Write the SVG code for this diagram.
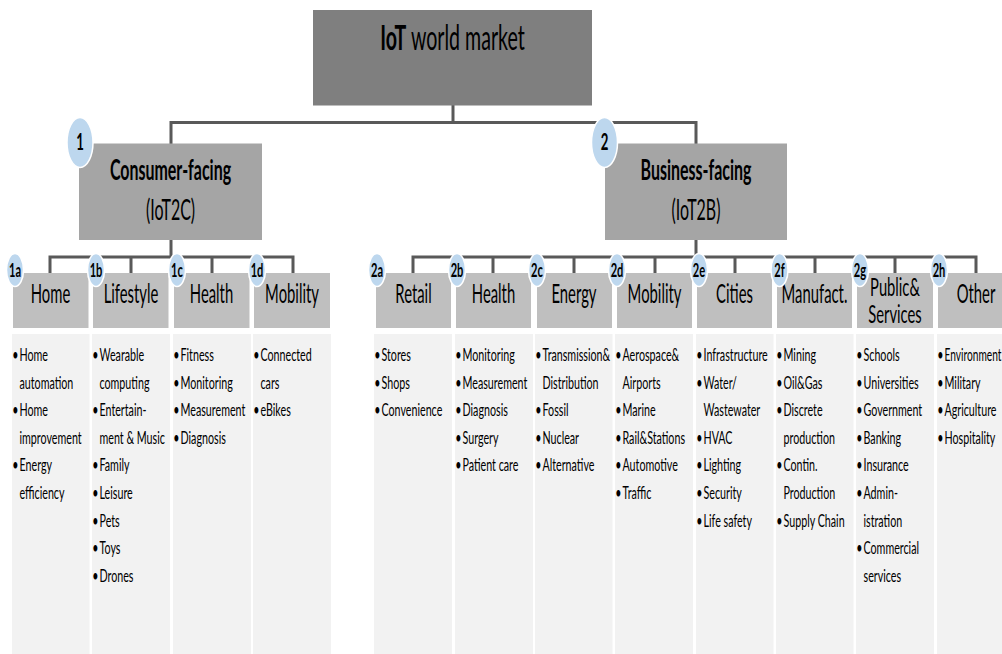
<svg xmlns="http://www.w3.org/2000/svg" width="1002" height="654" viewBox="0 0 1002 654">
<style>
text{font-family:Lato,"Liberation Sans",sans-serif;fill:#000}
.top{fill:#7f7f7f}
.l1{fill:#a5a5a5}
.l2{fill:#bfbfbf}
.ct{fill:#f2f2f2}
.con{fill:none;stroke:#595959;stroke-width:3}
.bd{fill:#bdd7ee;stroke:#fff;stroke-width:1.5}
.b{font-size:17px}
.bu{font-size:17px;text-anchor:middle}
.h{font-size:26px;text-anchor:middle}
.h2{font-size:25px;text-anchor:middle}
.t1{font-size:28.5px;text-anchor:middle}
.bl{font-size:18.5px;font-weight:bold;text-anchor:middle}
.bn{font-size:22px;font-weight:bold;text-anchor:middle}
</style>
<g id="connectors">
<path class="con" d="M453 105 V122.5"/>
<path class="con" d="M171 144 V122.5 H696 V144"/>
<path class="con" d="M171 240 V257"/>
<path class="con" d="M50 273 V257 H293 V273 M131 257 V273 M212 257 V273"/>
<path class="con" d="M696 240 V257"/>
<path class="con" d="M413 273 V257 H976 V273 M493 257 V273 M574 257 V273 M655 257 V273 M735 257 V273 M815 257 V273 M895 257 V273"/>
</g>
<g id="root">
<rect class="top" x="313" y="10" width="279" height="95.5"/>
<text transform="translate(452.5 50) scale(0.56 1)" style="font-size:35px;text-anchor:middle"><tspan font-weight="bold">IoT</tspan> world market</text>
</g>
<g id="consumer">
<rect class="l1" x="79" y="143.5" width="183" height="96.5"/>
<text class="t1" transform="translate(170.5 179.5) scale(0.56 1)" font-weight="bold">Consumer-facing</text>
<text class="t1" transform="translate(170.5 220) scale(0.56 1)">(IoT2C)</text>
<ellipse class="bd" cx="80" cy="142.5" rx="13" ry="25"/>
<text class="bn" transform="translate(80 150) scale(0.6 1)">1</text>
</g>
<g id="business">
<rect class="l1" x="605" y="143.5" width="182" height="96.5"/>
<text class="t1" transform="translate(696 179.5) scale(0.56 1)" font-weight="bold">Business-facing</text>
<text class="t1" transform="translate(696 220) scale(0.56 1)">(IoT2B)</text>
<ellipse class="bd" cx="604.5" cy="142.5" rx="13" ry="25"/>
<text class="bn" transform="translate(604.5 150) scale(0.6 1)">2</text>
</g>

<g id="c-home">
<rect class="l2" x="13" y="273" width="75.5" height="55"/>
<text class="h" transform="translate(50.5 303) scale(0.57 1)">Home</text>
<rect class="ct" x="12" y="334" width="77.5" height="320"/>
<g transform="translate(15.3 0) scale(0.63 1)"><text class="bu" y="361">•</text><text class="bu" y="416.2">•</text><text class="bu" y="471.4">•</text></g>
<g transform="translate(19.5 0) scale(0.63 1)"><text class="b" y="361">Home</text><text class="b" y="388.6">automation</text><text class="b" y="416.2">Home</text><text class="b" y="443.8">improvement</text><text class="b" y="471.4">Energy</text><text class="b" y="499">efficiency</text></g>
<ellipse class="bd" cx="15" cy="270" rx="8.5" ry="16.5"/>
<text class="bl" transform="translate(15 277) scale(0.6 1)">1a</text>
</g>
<g id="c-lifestyle">
<rect class="l2" x="93" y="273" width="75.5" height="55"/>
<text class="h" transform="translate(131 303) scale(0.57 1)">Lifestyle</text>
<rect class="ct" x="92" y="334" width="78" height="320"/>
<g transform="translate(95.3 0) scale(0.63 1)"><text class="bu" y="361">•</text><text class="bu" y="416.2">•</text><text class="bu" y="471.4">•</text><text class="bu" y="499">•</text><text class="bu" y="526.6">•</text><text class="bu" y="554.2">•</text><text class="bu" y="581.8">•</text></g>
<g transform="translate(99.5 0) scale(0.63 1)"><text class="b" y="361">Wearable</text><text class="b" y="388.6">computing</text><text class="b" y="416.2">Entertain-</text><text class="b" y="443.8">ment &amp; Music</text><text class="b" y="471.4">Family</text><text class="b" y="499">Leisure</text><text class="b" y="526.6">Pets</text><text class="b" y="554.2">Toys</text><text class="b" y="581.8">Drones</text></g>
<ellipse class="bd" cx="96" cy="270" rx="8.5" ry="16.5"/>
<text class="bl" transform="translate(96 277) scale(0.6 1)">1b</text>
</g>
<g id="c-health">
<rect class="l2" x="174" y="273" width="75.5" height="55"/>
<text class="h" transform="translate(211.5 303) scale(0.57 1)">Health</text>
<rect class="ct" x="173" y="334" width="78" height="320"/>
<g transform="translate(176.3 0) scale(0.63 1)"><text class="bu" y="361">•</text><text class="bu" y="388.6">•</text><text class="bu" y="416.2">•</text><text class="bu" y="443.8">•</text></g>
<g transform="translate(180.5 0) scale(0.63 1)"><text class="b" y="361">Fitness</text><text class="b" y="388.6">Monitoring</text><text class="b" y="416.2">Measurement</text><text class="b" y="443.8">Diagnosis</text></g>
<ellipse class="bd" cx="177" cy="270" rx="8.5" ry="16.5"/>
<text class="bl" transform="translate(177 277) scale(0.6 1)">1c</text>
</g>
<g id="c-mobility">
<rect class="l2" x="254" y="273" width="76" height="55"/>
<text class="h" transform="translate(292 303) scale(0.57 1)">Mobility</text>
<rect class="ct" x="253" y="334" width="78" height="320"/>
<g transform="translate(256.3 0) scale(0.63 1)"><text class="bu" y="361">•</text><text class="bu" y="416.2">•</text></g>
<g transform="translate(260.5 0) scale(0.63 1)"><text class="b" y="361">Connected</text><text class="b" y="388.6">cars</text><text class="b" y="416.2">eBikes</text></g>
<ellipse class="bd" cx="257" cy="270" rx="8.5" ry="16.5"/>
<text class="bl" transform="translate(257 277) scale(0.6 1)">1d</text>
</g>

<g id="b-retail">
<rect class="l2" x="376" y="273" width="75" height="55"/>
<text class="h" transform="translate(413.5 303) scale(0.57 1)">Retail</text>
<rect class="ct" x="374" y="334" width="78" height="320"/>
<g transform="translate(377.3 0) scale(0.63 1)"><text class="bu" y="361">•</text><text class="bu" y="388.6">•</text><text class="bu" y="416.2">•</text></g>
<g transform="translate(381.5 0) scale(0.63 1)"><text class="b" y="361">Stores</text><text class="b" y="388.6">Shops</text><text class="b" y="416.2">Convenience</text></g>
<ellipse class="bd" cx="377" cy="270" rx="8.5" ry="16.5"/>
<text class="bl" transform="translate(377 277) scale(0.6 1)">2a</text>
</g>
<g id="b-health">
<rect class="l2" x="456" y="273" width="75" height="55"/>
<text class="h" transform="translate(493.5 303) scale(0.57 1)">Health</text>
<rect class="ct" x="455" y="334" width="78" height="320"/>
<g transform="translate(458.3 0) scale(0.63 1)"><text class="bu" y="361">•</text><text class="bu" y="388.6">•</text><text class="bu" y="416.2">•</text><text class="bu" y="443.8">•</text><text class="bu" y="471.4">•</text></g>
<g transform="translate(462.5 0) scale(0.63 1)"><text class="b" y="361">Monitoring</text><text class="b" y="388.6">Measurement</text><text class="b" y="416.2">Diagnosis</text><text class="b" y="443.8">Surgery</text><text class="b" y="471.4">Patient care</text></g>
<ellipse class="bd" cx="457" cy="270" rx="8.5" ry="16.5"/>
<text class="bl" transform="translate(457 277) scale(0.6 1)">2b</text>
</g>
<g id="b-energy">
<rect class="l2" x="537" y="273" width="75" height="55"/>
<text class="h" transform="translate(574 303) scale(0.57 1)">Energy</text>
<rect class="ct" x="535" y="334" width="77.5" height="320"/>
<g transform="translate(538.3 0) scale(0.63 1)"><text class="bu" y="361">•</text><text class="bu" y="416.2">•</text><text class="bu" y="443.8">•</text><text class="bu" y="471.4">•</text></g>
<g transform="translate(542.5 0) scale(0.63 1)"><text class="b" y="361">Transmission&amp;</text><text class="b" y="388.6">Distribution</text><text class="b" y="416.2">Fossil</text><text class="b" y="443.8">Nuclear</text><text class="b" y="471.4">Alternative</text></g>
<ellipse class="bd" cx="537" cy="270" rx="8.5" ry="16.5"/>
<text class="bl" transform="translate(537 277) scale(0.6 1)">2c</text>
</g>
<g id="b-mobility">
<rect class="l2" x="617" y="273" width="75" height="55"/>
<text class="h" transform="translate(654.5 303) scale(0.57 1)">Mobility</text>
<rect class="ct" x="615" y="334" width="78" height="320"/>
<g transform="translate(618.3 0) scale(0.63 1)"><text class="bu" y="361">•</text><text class="bu" y="416.2">•</text><text class="bu" y="443.8">•</text><text class="bu" y="471.4">•</text><text class="bu" y="499">•</text></g>
<g transform="translate(622.5 0) scale(0.63 1)"><text class="b" y="361">Aerospace&amp;</text><text class="b" y="388.6">Airports</text><text class="b" y="416.2">Marine</text><text class="b" y="443.8">Rail&amp;Stations</text><text class="b" y="471.4">Automotive</text><text class="b" y="499">Traffic</text></g>
<ellipse class="bd" cx="617" cy="270" rx="8.5" ry="16.5"/>
<text class="bl" transform="translate(617 277) scale(0.6 1)">2d</text>
</g>
<g id="b-cities">
<rect class="l2" x="697" y="273" width="75" height="55"/>
<text class="h" transform="translate(734.5 303) scale(0.57 1)">Cities</text>
<rect class="ct" x="696" y="334" width="77.5" height="320"/>
<g transform="translate(699.3 0) scale(0.63 1)"><text class="bu" y="361">•</text><text class="bu" y="388.6">•</text><text class="bu" y="443.8">•</text><text class="bu" y="471.4">•</text><text class="bu" y="499">•</text><text class="bu" y="526.6">•</text></g>
<g transform="translate(703.5 0) scale(0.63 1)"><text class="b" y="361">Infrastructure</text><text class="b" y="388.6">Water/</text><text class="b" y="416.2">Wastewater</text><text class="b" y="443.8">HVAC</text><text class="b" y="471.4">Lighting</text><text class="b" y="499">Security</text><text class="b" y="526.6">Life safety</text></g>
<ellipse class="bd" cx="699" cy="270" rx="8.5" ry="16.5"/>
<text class="bl" transform="translate(699 277) scale(0.6 1)">2e</text>
</g>
<g id="b-manufact">
<rect class="l2" x="777" y="273" width="75" height="55"/>
<text class="h" transform="translate(814.5 303) scale(0.57 1)">Manufact.</text>
<rect class="ct" x="776" y="334" width="77.5" height="320"/>
<g transform="translate(779.3 0) scale(0.63 1)"><text class="bu" y="361">•</text><text class="bu" y="388.6">•</text><text class="bu" y="416.2">•</text><text class="bu" y="471.4">•</text><text class="bu" y="526.6">•</text></g>
<g transform="translate(783.5 0) scale(0.63 1)"><text class="b" y="361">Mining</text><text class="b" y="388.6">Oil&amp;Gas</text><text class="b" y="416.2">Discrete</text><text class="b" y="443.8">production</text><text class="b" y="471.4">Contin.</text><text class="b" y="499">Production</text><text class="b" y="526.6">Supply Chain</text></g>
<ellipse class="bd" cx="779.5" cy="270" rx="8.5" ry="16.5"/>
<text class="bl" transform="translate(779.5 277) scale(0.6 1)">2f</text>
</g>
<g id="b-public">
<rect class="l2" x="857" y="273" width="76" height="55"/>
<text class="h2" transform="translate(895 295.5) scale(0.59 1)">Public&amp;</text>
<text class="h2" transform="translate(895 323) scale(0.59 1)">Services</text>
<rect class="ct" x="856" y="334" width="78" height="320"/>
<g transform="translate(859.3 0) scale(0.63 1)"><text class="bu" y="361">•</text><text class="bu" y="388.6">•</text><text class="bu" y="416.2">•</text><text class="bu" y="443.8">•</text><text class="bu" y="471.4">•</text><text class="bu" y="499">•</text><text class="bu" y="554.2">•</text></g>
<g transform="translate(863.5 0) scale(0.63 1)"><text class="b" y="361">Schools</text><text class="b" y="388.6">Universities</text><text class="b" y="416.2">Government</text><text class="b" y="443.8">Banking</text><text class="b" y="471.4">Insurance</text><text class="b" y="499">Admin-</text><text class="b" y="526.6">istration</text><text class="b" y="554.2">Commercial</text><text class="b" y="581.8">services</text></g>
<ellipse class="bd" cx="860" cy="270" rx="8.5" ry="16.5"/>
<text class="bl" transform="translate(860 277) scale(0.6 1)">2g</text>
</g>
<g id="b-other">
<rect class="l2" x="938" y="273" width="64" height="55"/>
<text class="h" transform="translate(976 303) scale(0.57 1)">Other</text>
<rect class="ct" x="937" y="334" width="65" height="320"/>
<g transform="translate(940.3 0) scale(0.63 1)"><text class="bu" y="361">•</text><text class="bu" y="388.6">•</text><text class="bu" y="416.2">•</text><text class="bu" y="443.8">•</text></g>
<g transform="translate(944.5 0) scale(0.6 1)"><text class="b" y="361">Environment</text></g>
<g transform="translate(944.5 0) scale(0.63 1)"><text class="b" y="388.6">Military</text><text class="b" y="416.2">Agriculture</text><text class="b" y="443.8">Hospitality</text></g>
<ellipse class="bd" cx="939" cy="270" rx="8.5" ry="16.5"/>
<text class="bl" transform="translate(939 277) scale(0.6 1)">2h</text>
</g>
</svg>
